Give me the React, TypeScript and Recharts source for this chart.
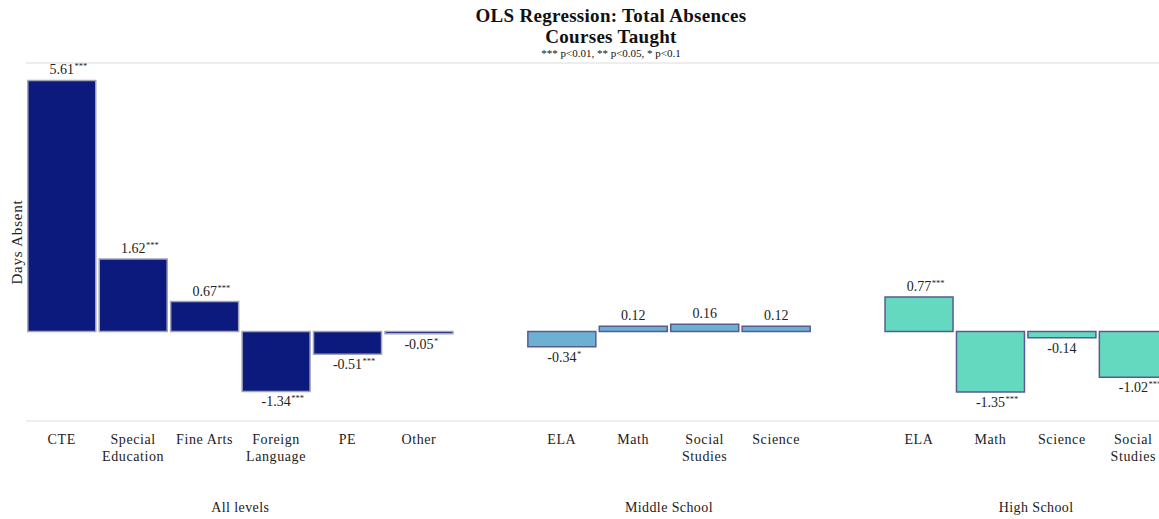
import React from "react";
import { BarChart, Bar, XAxis, YAxis, CartesianGrid, Cell, LabelList } from "recharts";

const categories = ["CTE", "Special\nEducation", "Fine Arts", "Foreign\nLanguage", "PE", "Other", "", "ELA", "Math", "Social\nStudies", "Science", "", "ELA", "Math", "Science", "Social\nStudies"];
const values: (number | null)[] = [5.61, 1.62, 0.67, -1.34, -0.51, -0.05, null, -0.34, 0.12, 0.16, 0.12, null, 0.77, -1.35, -0.14, -1.02];
const stars = ["***", "***", "***", "***", "***", "*", "", "*", "", "", "", "", "***", "***", "", "***"];
const groups = ["all", "all", "all", "all", "all", "all", "gap", "ms", "ms", "ms", "ms", "gap", "hs", "hs", "hs", "hs"];
const groupLabels = ["All levels", "Middle School", "High School"];
const groupCenters = [3, 9, 14.14];
const yTicks = [-2, -1, 0, 1, 2, 3, 4, 5, 6];

const fills: Record<string, string> = { all: "#0b1a7c", ms: "#6cb0d2", hs: "#64d9bf", gap: "none" };
const strokes: Record<string, string> = { all: "#a4a4b8", ms: "#5a5a92", hs: "#5a5a92", gap: "none" };

const data = categories.map((c, i) => ({
  id: String(i),
  pos: i + 0.5,
  value: values[i],
  lab: values[i] === null ? null : `${(values[i] as number).toFixed(2)}|${stars[i]}`,
}));

const FONT = "'Liberation Serif', serif";

const CatTick = (props: any) => {
  const { x, y, payload } = props;
  const idx = Number(payload.value);
  const lines = (categories[idx] || "").split("\n");
  return (
    <text x={x} y={y} textAnchor="middle" fontFamily={FONT} fontSize={14} letterSpacing={0.6} fill="#222">
      {lines.map((l, k) => (
        <tspan key={k} x={x} dy={k === 0 ? 15 : 17}>{l}</tspan>
      ))}
    </text>
  );
};

const GroupTick = (props: any) => {
  const { x, y, payload } = props;
  const gi = groupCenters.indexOf(payload.value);
  return (
    <text x={x} y={y} textAnchor="middle" fontFamily={FONT} fontSize={14} letterSpacing={0.4} fill="#222" dy={28}>
      {gi >= 0 ? groupLabels[gi] : ""}
    </text>
  );
};

const charW = (s: string, fs: number) => {
  let w = 0;
  for (const ch of s) w += ch === "." ? 0.25 : ch === "-" ? 0.333 : 0.5;
  return w * fs;
};

const ValueLabel = (props: any) => {
  const { x, y, width, height, value } = props;
  if (value === null || value === undefined) return null;
  const [num, s] = String(value).split("|");
  const v = parseFloat(num);
  const top = Math.min(y, y + height);
  const bottom = Math.max(y, y + height);
  const cx = x + width / 2;
  const ty = v >= 0 ? top - 6 : bottom + 15;
  const fs = 14;
  return (
    <g>
      <text x={cx} y={ty} textAnchor="middle" fontFamily={FONT} fontSize={fs} fill="#222">{num}</text>
      {s ? (
        <text x={cx + charW(num, fs) / 2 + 0.5} y={ty - 5} textAnchor="start" fontFamily={FONT} fontSize={8.5} fill="#222">{s}</text>
      ) : null}
    </g>
  );
};

export default function App() {
  return (
    <div style={{ position: "absolute", left: 0, top: 0, width: 1159, height: 519, overflow: "hidden", background: "#fff" }}>
      <div style={{ position: "absolute", left: 0, top: 0, width: 1222, textAlign: "center", fontFamily: FONT, color: "#111" }}>
        <div style={{ fontWeight: "bold", fontSize: 19, lineHeight: "21px", marginTop: 5, letterSpacing: 0.3 }}>OLS Regression: Total Absences</div>
        <div style={{ fontWeight: "bold", fontSize: 19, lineHeight: "21px", letterSpacing: 0.3 }}>Courses Taught</div>
        <div style={{ fontSize: 11, lineHeight: "13px" }}>*** p&lt;0.01, ** p&lt;0.05, * p&lt;0.1</div>
      </div>
      <div style={{ position: "absolute", left: 0, top: 0 }}>
        <BarChart width={1175} height={519} data={data} margin={{ top: 63, right: 6, bottom: 0, left: 0 }} barCategoryGap="2.5%">
          <CartesianGrid vertical={false} stroke="#dcdcdc" />
          <YAxis
            domain={[-2, 6]}
            ticks={yTicks}
            width={26}
            tick={false}
            axisLine={false}
            tickLine={false}
            label={{ value: "Days Absent", angle: -90, position: "center", dx: 4, style: { fontFamily: FONT, fontSize: 15, letterSpacing: 0.8, fill: "#222" } }}
          />
          <XAxis dataKey="id" height={55} axisLine={false} tickLine={false} interval={0} tick={<CatTick />} />
          <XAxis
            xAxisId="grp"
            dataKey="pos"
            type="number"
            domain={[0, 16]}
            allowDataOverflow
            ticks={groupCenters}
            height={43}
            axisLine={false}
            tickLine={false}
            tick={<GroupTick />}
          />
          <Bar dataKey="value" isAnimationActive={false} strokeWidth={1.5}>
            {data.map((d, i) => (
              <Cell key={i} fill={fills[groups[i]]} stroke={strokes[groups[i]]} />
            ))}
            <LabelList dataKey="lab" content={<ValueLabel />} />
          </Bar>
        </BarChart>
      </div>
    </div>
  );
}
